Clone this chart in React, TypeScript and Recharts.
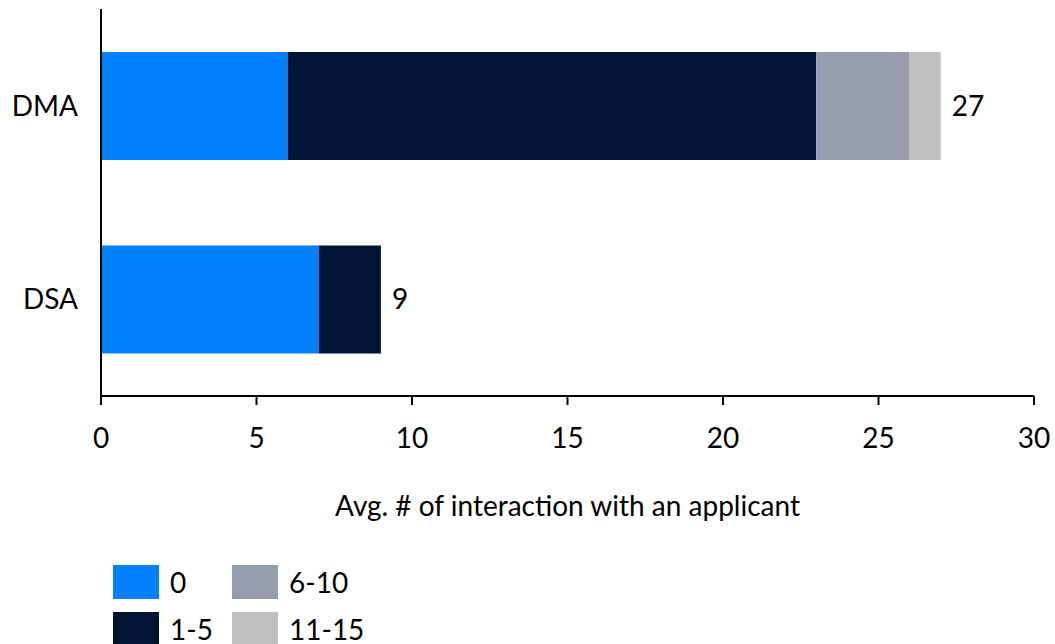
import { BarChart, Bar, XAxis, YAxis, Legend, LabelList } from 'recharts';

const categories = ['DMA', 'DSA'];
const zero = [6, 7];
const oneToFive = [17, 2];
const sixToTen = [3, 0];
const elevenToFifteen = [1, 0];
const xTicks = [0, 5, 10, 15, 20, 25, 30];

const seriesKeys = ['0', '1-5', '6-10', '11-15'];
const seriesColors = ['#0080FF', '#001433', '#979DAC', '#BFBFBF'];
const seriesValues = [zero, oneToFive, sixToTen, elevenToFifteen];

const data = categories.map((name, i) => ({
  name,
  '0': zero[i],
  '1-5': oneToFive[i],
  '6-10': sixToTen[i],
  '11-15': elevenToFifteen[i],
  total: zero[i] + oneToFive[i] + sixToTen[i] + elevenToFifteen[i],
}));

// index of the outermost non-empty segment for each row
const lastSeg = categories.map((_, i) => {
  let last = 0;
  seriesValues.forEach((vals, s) => {
    if (vals[i] > 0) last = s;
  });
  return last;
});

const FONT = 'Lato, "Open Sans", sans-serif';
const FS = 28;

const LegendGrid = () => {
  // two columns, filled top-down: 0 / 1-5, then 6-10 / 11-15
  const cells = seriesKeys.map((k, i) => ({
    key: k,
    color: seriesColors[i],
    col: Math.floor(i / 2),
    row: i % 2,
  }));
  return (
    <div style={{ position: 'relative', width: 300, height: 90, fontFamily: FONT, fontSize: FS, color: '#000' }}>
      {cells.map((c) => (
        <div
          key={c.key}
          style={{
            position: 'absolute',
            left: c.col * 119,
            top: c.row * 47,
            display: 'flex',
            alignItems: 'center',
            height: 34,
          }}
        >
          <div style={{ width: 46, height: 34, background: c.color }} />
          <span style={{ marginLeft: 11 }}>{c.key}</span>
        </div>
      ))}
    </div>
  );
};

const makeTotalLabel = (seriesIndex: number) => (props: any) => {
  const { x, y, width, height, index } = props;
  if (lastSeg[index] !== seriesIndex) return null;
  return (
    <text
      x={Number(x) + Number(width) + 11}
      y={Number(y) + Number(height) / 2}
      dy="0.35em"
      fontFamily={FONT}
      fontSize={FS}
      fill="#000"
    >
      {data[index].total}
    </text>
  );
};

const App = () => {
  return (
    <div style={{ width: 1055, height: 644, background: '#fff' }}>
      <style>{`body{margin:0}`}</style>
      <BarChart
        width={1055}
        height={644}
        data={data}
        layout="vertical"
        margin={{ top: 9, right: 21, left: 0, bottom: 28 }}
        barCategoryGap={43}
      >
        <XAxis
          type="number"
          domain={[0, 30]}
          ticks={xTicks}
          interval={0}
          stroke="#000"
          strokeWidth={2}
          tickSize={9}
          tickMargin={23}
          tick={{ fill: '#000', fontSize: FS, fontFamily: FONT }}
          height={130}
          label={{
            value: 'Avg. # of interaction with an applicant',
            position: 'insideBottom',
            offset: 10,
            fill: '#000',
            fontSize: FS,
            fontFamily: FONT,
          }}
        />
        <YAxis
          type="category"
          dataKey="name"
          width={101}
          stroke="#000"
          strokeWidth={2}
          tickLine={false}
          tickMargin={17}
          tick={{ fill: '#000', fontSize: FS, fontFamily: FONT }}
        />
        <Legend
          content={<LegendGrid />}
          wrapperStyle={{ position: 'absolute', left: 113, top: 565, width: 300 }}
        />
        {seriesKeys.map((k, i) => (
          <Bar key={k} dataKey={k} stackId="a" fill={seriesColors[i]} isAnimationActive={false}>
            <LabelList dataKey="total" content={makeTotalLabel(i)} />
          </Bar>
        ))}
      </BarChart>
    </div>
  );
};

export default App;
